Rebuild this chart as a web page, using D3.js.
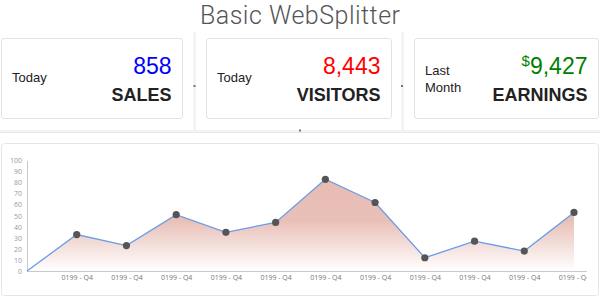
<!DOCTYPE html>
<html>
<head>
<meta charset="utf-8">
<script src="https://cdn.jsdelivr.net/npm/d3@7"></script>
<style>
  html, body { margin: 0; padding: 0; background: #fff; }
  svg { display: block; }
</style>
</head>
<body>
<div id="page"></div>
<script>
// Stat cards
var statPeriods = [["Today"], ["Today"], ["Last", "Month"]];
var statValues = ["858", "8,443", "9,427"];
var statPrefix = ["", "", "$"];
var statCaptions = ["SALES", "VISITORS", "EARNINGS"];
var statColors = ["#0000ff", "#ff0000", "#008000"];

// Chart data
var categories = ["", "0199 - Q4", "0199 - Q4", "0199 - Q4", "0199 - Q4", "0199 - Q4",
  "0199 - Q4", "0199 - Q4", "0199 - Q4", "0199 - Q4", "0199 - Q4", "0199 - Q4"];
var values = [0, 33, 23, 51, 35, 44, 83, 62, 12, 27, 18, 53];
var yTicks = [0, 10, 20, 30, 40, 50, 60, 70, 80, 90, 100];

var W = 600, H = 297;
var svg = d3.select('#page').append('svg')
  .attr('width', W).attr('height', H);

var defs = svg.append('defs');

// title
svg.append('text')
  .attr('x', 300).attr('y', 23.5)
  .attr('text-anchor', 'middle')
  .attr('font-family', 'Roboto, sans-serif')
  .attr('font-weight', 300)
  .attr('font-size', 25)
  .attr('textLength', 200)
  .attr('fill', '#555')
  .text('Basic WebSplitter');

// splitter bars
svg.append('rect').attr('x', 193).attr('y', 32).attr('width', 3).attr('height', 98).attr('fill', '#f3f3f3');
svg.append('rect').attr('x', 401).attr('y', 32).attr('width', 3).attr('height', 98).attr('fill', '#f3f3f3');
svg.append('rect').attr('x', 0).attr('y', 130).attr('width', 600).attr('height', 2).attr('fill', '#f3f3f3');
svg.append('line').attr('x1', 0).attr('x2', 600).attr('y1', 132.5).attr('y2', 132.5).attr('stroke', '#e8e8e8');
[[194.5, 86], [402, 86], [300, 130.5]].forEach(function(p) {
  svg.append('rect').attr('x', p[0] - 1).attr('y', p[1] - 1).attr('width', 2).attr('height', 2).attr('fill', '#777');
});

// cards
var cards = [
  {x: 1.5, w: 181},
  {x: 206.5, w: 185},
  {x: 414.5, w: 184}
];

cards.forEach(function(c, i) {
  var g = svg.append('g');
  g.append('rect')
    .attr('x', c.x).attr('y', 38.5).attr('width', c.w).attr('height', 80)
    .attr('rx', 3)
    .attr('fill', '#fff').attr('stroke', '#e2e2e2');

  var per = statPeriods[i];
  per.forEach(function(t, j) {
    g.append('text')
      .attr('x', c.x + 10.5)
      .attr('y', per.length == 1 ? 82 : 75 + j * 17)
      .attr('font-family', 'Liberation Sans, Arial, sans-serif')
      .attr('font-size', 13)
      .attr('fill', '#222')
      .text(t);
  });

  var right = c.x + c.w - 11;
  var num = g.append('text')
    .attr('x', right).attr('y', 73.5)
    .attr('text-anchor', 'end')
    .attr('font-family', 'Liberation Sans, Arial, sans-serif')
    .attr('font-size', 23)
    .attr('fill', statColors[i]);
  if (statPrefix[i]) {
    num.append('tspan').attr('font-size', 15).attr('dy', -8).text(statPrefix[i]);
    num.append('tspan').attr('dy', 8).text(statValues[i]);
  } else {
    num.text(statValues[i]);
  }

  g.append('text')
    .attr('x', right).attr('y', 101)
    .attr('text-anchor', 'end')
    .attr('font-family', 'Liberation Sans, Arial, sans-serif')
    .attr('font-weight', 'bold')
    .attr('font-size', 18)
    .attr('fill', '#222')
    .text(statCaptions[i]);
});

// chart card
svg.append('rect')
  .attr('x', 1.5).attr('y', 143.5).attr('width', 597).attr('height', 152)
  .attr('rx', 3)
  .attr('fill', '#fff').attr('stroke', '#e6e6e6');

var chart = svg.append('svg')
  .attr('x', 0).attr('y', 0)
  .attr('width', 587).attr('height', 297)
  .style('overflow', 'hidden');

var x = d3.scalePoint()
  .domain(d3.range(categories.length))
  .range([27, 574]);

var y = d3.scaleLinear()
  .domain([0, 100])
  .range([271, 160.5]);

var grad = defs.append('linearGradient')
  .attr('id', 'areaFill')
  .attr('gradientUnits', 'userSpaceOnUse')
  .attr('x1', 0).attr('x2', 0)
  .attr('y1', y(83)).attr('y2', y(0));
grad.append('stop').attr('offset', '0%').attr('stop-color', '#e8bcb3');
grad.append('stop').attr('offset', '45%').attr('stop-color', '#e9c0b8');
grad.append('stop').attr('offset', '100%').attr('stop-color', '#ffffff');

var area = d3.area()
  .x(function(d, i) { return x(i); })
  .y0(y(0))
  .y1(function(d) { return y(d); });

var line = d3.line()
  .x(function(d, i) { return x(i); })
  .y(function(d) { return y(d); });

chart.append('path')
  .datum(values)
  .attr('d', area)
  .attr('fill', 'url(#areaFill)');

// y axis
var yAxis = chart.append('g')
  .attr('transform', 'translate(27,0)')
  .call(d3.axisLeft(y).tickValues(yTicks).tickSize(0).tickPadding(5));
yAxis.select('.domain').attr('stroke', '#c8c8c8');
yAxis.selectAll('text')
  .attr('font-family', 'Open Sans, sans-serif')
  .attr('font-size', 7)
  .attr('fill', '#999');

// x axis
var xAxis = chart.append('g')
  .attr('transform', 'translate(0,271)')
  .call(d3.axisBottom(x).tickFormat(function(i) { return categories[i]; }).tickSize(0).tickPadding(4));
xAxis.select('.domain').attr('d', 'M27,0.5H587').attr('stroke', '#c8c8c8');
xAxis.selectAll('text')
  .attr('font-family', 'Open Sans, sans-serif')
  .attr('font-size', 7)
  .attr('fill', '#777');

chart.append('path')
  .datum(values)
  .attr('d', line)
  .attr('fill', 'none')
  .attr('stroke', '#6a9be8')
  .attr('stroke-width', 1.3);

chart.selectAll('circle')
  .data(values.filter(function(d, i) { return categories[i] !== ''; }))
  .enter()
  .append('circle')
  .attr('cx', function(d, i) { return x(i + 1); })
  .attr('cy', function(d) { return y(d); })
  .attr('r', 3.6)
  .attr('fill', '#555');
</script>
</body>
</html>
